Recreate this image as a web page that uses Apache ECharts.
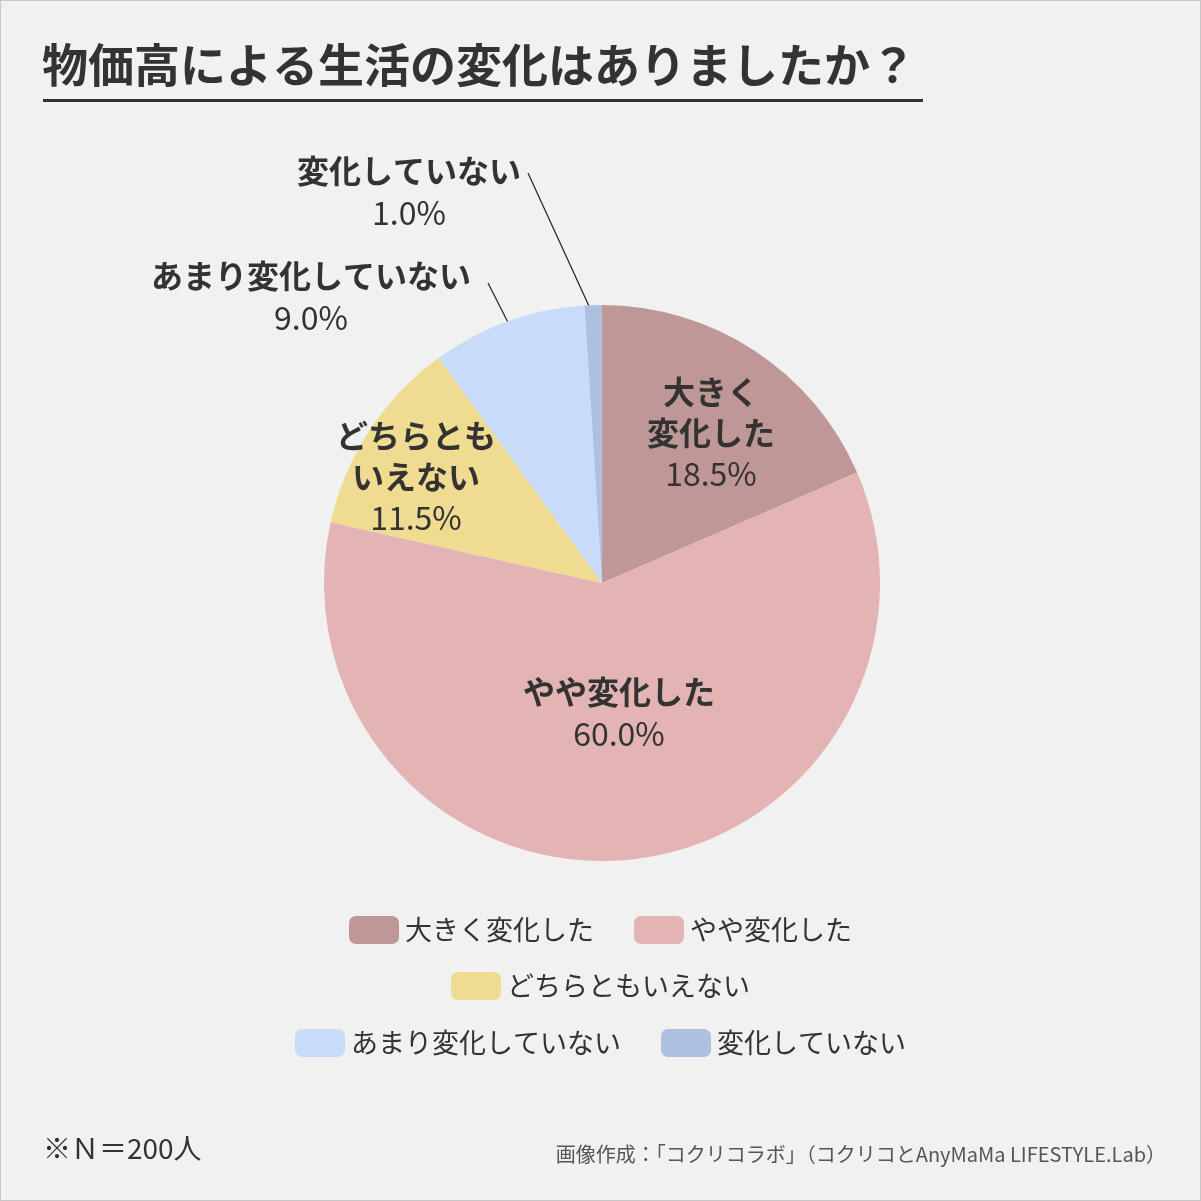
<!DOCTYPE html>
<html>
<head>
<meta charset="utf-8">
<script src="https://cdn.jsdelivr.net/npm/echarts@6/dist/echarts.min.js"></script>
<style>
  html, body { margin: 0; padding: 0; background: #f1f1f1; }
  #chart { width: 1201px; height: 1201px; box-sizing: border-box; border: 1px solid #c8c8c8; }
</style>
</head>
<body>
<div id="chart"></div>
<script>
const categories = ['大きく変化した', 'やや変化した', 'どちらともいえない', 'あまり変化していない', '変化していない'];
const labelNames = ['大きく\n変化した', 'やや変化した', 'どちらとも\nいえない', 'あまり変化していない', '変化していない'];
const values = [18.5, 60.0, 11.5, 9.0, 1.0];
const colors = ['#c09797', '#e4b3b4', '#efdc91', '#c8dcf9', '#adc0df'];

// label centres (px), by data index
const labelPos = [[710, 432], [618, 712], [415, 476], [310, 296], [408, 191]];
// leader lines for the two outside labels: label end -> inside slice
const leaderLines = [null, null, null, [[487, 282], [521, 349]], [[527, 172], [593, 316]]];

const font = '"Noto Sans CJK JP", "Noto Sans", sans-serif';
const chart = echarts.init(document.getElementById('chart'));

const seriesData = categories.map((name, i) => ({
  name,
  value: values[i],
  itemStyle: { color: colors[i] },
  label: {
    position: leaderLines[i] ? 'outside' : 'inside',
    formatter: () =>
      labelNames[i].split('\n').map((s) => '{n|' + s + '}').join('\n') + '\n{p|' + values[i].toFixed(1) + '%}',
  },
  labelLine: { show: !!leaderLines[i], lineStyle: { color: '#222', width: 1.2 } },
}));

const legendRow = (data, top) => ({
  data,
  top,
  left: 'center',
  icon: 'roundRect',
  itemWidth: 50,
  itemHeight: 28,
  itemGap: 40,
  textStyle: { fontFamily: font, fontSize: 27, color: '#333', padding: [0, 0, 0, 1] },
  selectedMode: false,
});

chart.setOption({
  animation: false,
  backgroundColor: '#f1f1f1',
  color: colors,
  legend: [
    legendRow(categories.slice(0, 2), 910),
    legendRow(categories.slice(2, 3), 966),
    legendRow(categories.slice(3, 5), 1023),
  ],
  graphic: [
    {
      type: 'text',
      left: 41,
      top: 41,
      style: { text: '物価高による生活の変化はありましたか？', font: 'bold 46px ' + font, fill: '#333' },
    },
    {
      type: 'rect',
      shape: { x: 42, y: 98, width: 880, height: 3 },
      style: { fill: '#333' },
    },
    {
      type: 'text',
      left: 42,
      top: 1133,
      style: { text: '※Ｎ＝200人', font: '28px ' + font, fill: '#333' },
    },
    {
      type: 'text',
      right: 34,
      top: 1143,
      style: { text: '画像作成：「コクリコラボ」（コクリコとAnyMaMa LIFESTYLE.Lab）', font: '20px ' + font, fill: '#555' },
    },
  ],
  series: [
    {
      type: 'pie',
      center: [601, 582],
      radius: 278,
      startAngle: 90,
      clockwise: true,
      data: seriesData,
      label: {
        color: '#333',
        align: 'center',
        rich: {
          n: { fontFamily: font, fontSize: 32, fontWeight: 'bold', color: '#333', lineHeight: 41, align: 'center' },
          p: { fontFamily: font, fontSize: 32, color: '#333', lineHeight: 42, align: 'center' },
        },
      },
      labelLayout: (params) => {
        const p = labelPos[params.dataIndex];
        const out = { x: p[0], y: p[1], align: 'center', verticalAlign: 'middle' };
        if (leaderLines[params.dataIndex]) out.labelLinePoints = leaderLines[params.dataIndex];
        return out;
      },
      emphasis: { disabled: true },
    },
  ],
});
</script>
</body>
</html>
